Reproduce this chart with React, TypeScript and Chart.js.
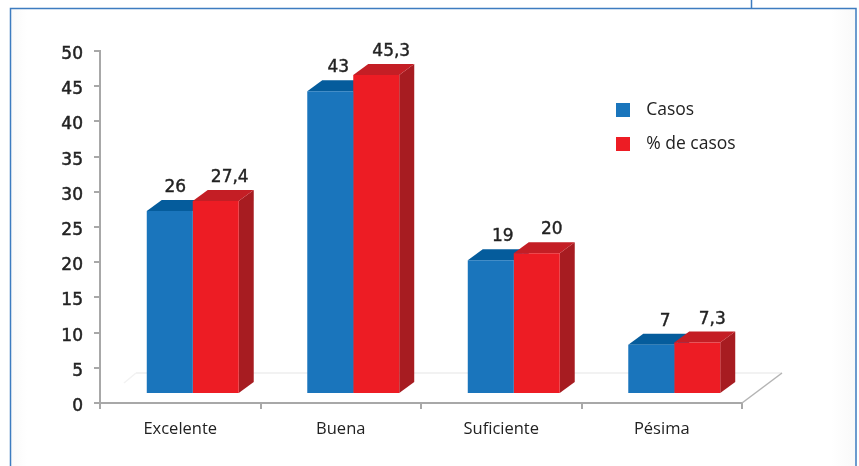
import React, { useEffect, useRef } from "react";
import { Chart, registerables } from "chart.js";

Chart.register(...registerables);

const categories = ["Excelente", "Buena", "Suficiente", "Pésima"];
const casos = [26, 43, 19, 7];
const porcentaje = [27.4, 45.3, 20, 7.3];
const seriesNames = ["Casos", "% de casos"];
const yTicks = [0, 5, 10, 15, 20, 25, 30, 35, 40, 45, 50];

const BLUE = "#1a75bc";
const RED = "#ed1c24";
const SHADES = [
  { top: "#055c9c", side: "#055c9c" },
  { top: "#c41e25", side: "#a71c21" },
];
const FRONT_DX = 12.5;
const FRONT_DY = -9;
const DEPTH_X = 15;
const DEPTH_Y = -11;
const LABEL_NUDGE = [
  [5.5, 8, 12, 14],
  [14, 15, 15, 15],
];

function swatch(color: string) {
  const c = document.createElement("canvas");
  c.width = 14;
  c.height = 14;
  const g = c.getContext("2d")!;
  g.fillStyle = color;
  g.fillRect(0, 0, 14, 14);
  return c;
}

const scene = {
  id: "scene",
  afterLayout(chart: any) {
    const l = chart.legend;
    l.left = 591;
    l.right = 591 + l.width;
    l.top = 85;
    l.bottom = 85 + l.height;
  },
  beforeDraw(chart: any) {
    const { ctx, width, height } = chart;
    ctx.save();
    ctx.fillStyle = "#ffffff";
    ctx.fillRect(0, 0, width, height);
    const g = ctx.createLinearGradient(10, 0, 856, 0);
    g.addColorStop(0, "#f9f9f9");
    g.addColorStop(0.02, "#ffffff");
    g.addColorStop(0.97, "#ffffff");
    g.addColorStop(1, "#f9f9f9");
    ctx.fillStyle = g;
    ctx.fillRect(10, 8, 846, height);
    ctx.strokeStyle = "#3d7cc0";
    ctx.lineWidth = 1.5;
    ctx.beginPath();
    ctx.moveTo(10.5, height + 5);
    ctx.lineTo(10.5, 8.5);
    ctx.lineTo(856, 8.5);
    ctx.lineTo(856, height + 5);
    ctx.moveTo(751.5, 0);
    ctx.lineTo(751.5, 8);
    ctx.stroke();
    ctx.restore();
  },
  beforeDatasetsDraw(chart: any) {
    const { ctx, chartArea: a } = chart;
    ctx.save();
    const floorY = a.bottom - 30;
    ctx.strokeStyle = "#eeeeee";
    ctx.lineWidth = 1.5;
    ctx.beginPath();
    ctx.moveTo(a.left + 36, floorY);
    ctx.lineTo(a.right + 40, floorY);
    ctx.stroke();
    ctx.strokeStyle = "#f2f2f2";
    ctx.beginPath();
    ctx.moveTo(a.left + 24, a.bottom - 20);
    ctx.lineTo(a.left + 36, floorY);
    ctx.stroke();
    ctx.strokeStyle = "#b4b4b4";
    ctx.beginPath();
    ctx.moveTo(a.right, a.bottom);
    ctx.lineTo(a.right + 40, floorY);
    ctx.stroke();

    ctx.translate(FRONT_DX, FRONT_DY);
    [0, 1].forEach((di) => {
      chart.getDatasetMeta(di).data.forEach((b: any) => {
        const l = b.x - b.width / 2;
        const r = b.x + b.width / 2;
        ctx.fillStyle = SHADES[di].side;
        ctx.beginPath();
        ctx.moveTo(r, b.base);
        ctx.lineTo(r + DEPTH_X, b.base + DEPTH_Y);
        ctx.lineTo(r + DEPTH_X, b.y + DEPTH_Y);
        ctx.lineTo(r, b.y);
        ctx.closePath();
        ctx.fill();
        ctx.fillStyle = SHADES[di].top;
        ctx.beginPath();
        ctx.moveTo(l, b.y);
        ctx.lineTo(l + DEPTH_X, b.y + DEPTH_Y);
        ctx.lineTo(r + DEPTH_X, b.y + DEPTH_Y);
        ctx.lineTo(r, b.y);
        ctx.closePath();
        ctx.fill();
      });
    });
    ctx.restore();
  },
  beforeDatasetDraw(chart: any) {
    chart.ctx.save();
    chart.ctx.translate(FRONT_DX, FRONT_DY);
  },
  afterDatasetDraw(chart: any) {
    chart.ctx.restore();
  },
  afterDatasetsDraw(chart: any) {
    const { ctx } = chart;
    ctx.save();
    ctx.font = "17px 'DejaVu Sans'";
    ctx.fillStyle = "#222222";
    ctx.strokeStyle = "#222222";
    ctx.lineWidth = 0.4;
    ctx.textAlign = "center";
    ctx.textBaseline = "middle";
    [0, 1].forEach((di) => {
      const values = chart.data.datasets[di].data;
      chart.getDatasetMeta(di).data.forEach((b: any, i: number) => {
        const text = String(values[i]).replace(".", ",");
        const x = b.x + FRONT_DX + LABEL_NUDGE[di][i];
        const y = b.y + FRONT_DY - 23.5;
        ctx.fillText(text, x, y);
        ctx.strokeText(text, x, y);
      });
    });
    ctx.restore();
  },
};

export default function App() {
  const ref = useRef<HTMLCanvasElement>(null);
  useEffect(() => {
    const swatches = [swatch(BLUE), swatch(RED)];
    const chart = new Chart(ref.current!, {
      type: "bar",
      data: {
        labels: categories,
        datasets: [
          { label: seriesNames[0], data: casos, backgroundColor: BLUE },
          { label: seriesNames[1], data: porcentaje, backgroundColor: RED },
        ],
      },
      plugins: [scene],
      options: {
        animation: false,
        responsive: false,
        layout: { padding: { top: 51, right: 117, left: 0, bottom: 0 } },
        datasets: { bar: { categoryPercentage: 0.573, barPercentage: 1 } },
        plugins: {
          tooltip: { enabled: false },
          legend: {
            position: "chartArea",
            align: "start",
            labels: {
              usePointStyle: true,
              pointStyleWidth: 30,
              boxHeight: 14,
              padding: 16.5,
              color: "#222222",
              font: { family: "'Open Sans'", size: 17.5 },
              generateLabels(c: any) {
                return Chart.defaults.plugins.legend.labels
                  .generateLabels(c)
                  .map((it: any, i: number) => ({ ...it, pointStyle: swatches[i] }));
              },
            },
          },
        },
        scales: {
          x: {
            afterFit(s: any) {
              s.height = 63;
            },
            grid: { drawOnChartArea: false, tickLength: 6, color: "#a8a8a8", lineWidth: 2 },
            border: { color: "#a8a8a8", width: 2 },
            ticks: {
              color: "#222222",
              padding: 10,
              font: { family: "'Open Sans'", size: 16.5 },
            },
          },
          y: {
            min: 0,
            max: 50,
            afterFit(s: any) {
              s.width = 100;
            },
            afterBuildTicks(s: any) {
              s.ticks = yTicks.map((value) => ({ value }));
            },
            grid: { drawOnChartArea: false, tickLength: 6, color: "#a8a8a8", lineWidth: 2 },
            border: { color: "#a8a8a8", width: 2 },
            ticks: {
              color: "#222222",
              padding: 11,
              labelOffset: 3.5,
              textStrokeColor: "#222222",
              textStrokeWidth: 0.5,
              font: { family: "'DejaVu Sans'", size: 17 },
            },
          },
        },
      } as any,
    });
    return () => chart.destroy();
  }, []);
  return (
    <div style={{ position: "fixed", left: 0, top: 0, width: 859, height: 466 }}>
      <canvas ref={ref} width={859} height={466} style={{ display: "block" }} />
    </div>
  );
}
